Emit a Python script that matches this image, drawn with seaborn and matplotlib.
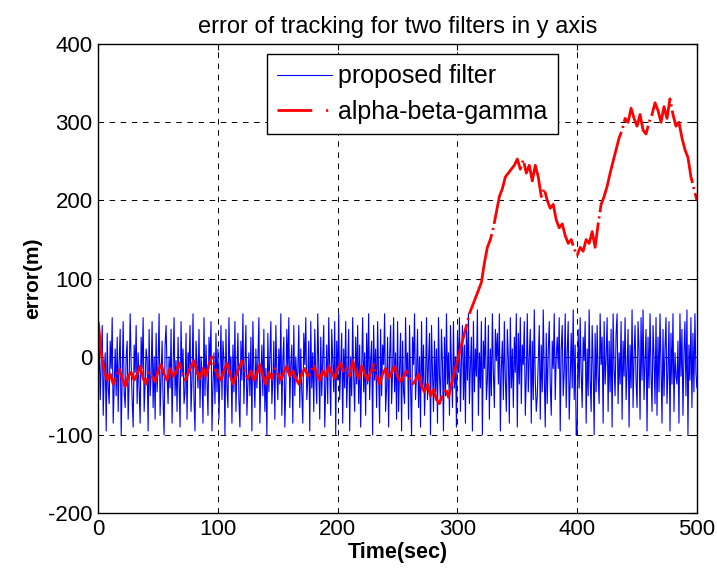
import numpy as np
import pandas as pd
import matplotlib
matplotlib.use('Agg')
import matplotlib.pyplot as plt
import seaborn as sns

# proposed filter error, 601 samples over 0..500 s
proposed = [
    -30, 15, -55, -10, 40, -75, -20, 5, -95, 30, -40, -60, 20, -15, 50, -85, -35, 10, -50, 25,
    -70, -5, 35, -100, -25, 45, -45, -65, 0, 20, -80, -30, 55, -10, -55, -90, 15, -20, 40, -60,
    5, -40, -85, 25, -15, 50, -70, -35, 10, -5, -95, 35, -50, -25, 45, -65, 0, -80, 30, -45,
    -10, 55, -75, -30, 20, -55, -100, 15, 40, -20, -60, 0, -40, 35, -85, -15, 50, -50, -5, -70,
    25, -35, -90, 45, -25, 10, -60, -45, 30, -80, 5, -15, 40, -70, -30, 55, -55, -95, 20, -10,
    -40, 35, -65, 0, -20, -85, 50, -50, 15, -30, -75, 25, -10, 45, -95, -35, 5, -60, 30, -45,
    10, -80, -20, 40, -55, 20, -5, -100, 35, -40, -65, 50, -25, 0, -85, 15, -45, 45, -70, -15,
    30, -55, -90, 20, -30, 55, -60, -10, 40, -75, -35, 5, -50, 25, -95, 45, -20, -65, 10, -40,
    -5, 50, -85, -25, 15, -50, 35, -70, -15, -100, 30, -45, 0, 45, -60, -30, 20, -80, 40, -20,
    -55, 10, -35, 55, -75, -5, 25, -90, -40, 35, -20, 50, -65, -10, 15, -85, 40, -50, 0, -30,
    -20, 40, -65, 10, -45, -85, 30, -10, 50, -55, -30, 20, -95, 45, -40, 5, -70, 35, -25, -60,
    55, -15, -80, 25, -50, 0, 40, -90, -35, 15, -60, 50, -20, -75, 35, -5, -45, 45, -100, 20,
    -30, 55, -55, -10, 30, -85, 10, -40, 45, -65, -20, 35, -95, 0, -50, 50, -25, -70, 25, -35,
    40, -60, 15, -90, -15, 50, -45, 5, -75, 30, -35, 55, -55, -5, 20, -100, 40, -30, 10, -65,
    45, -25, -85, 35, -50, 15, -10, 55, -70, -40, 25, -90, 0, 40, -60, -20, 50, -45, 5, -80,
    45, -70, -15, 30, -95, 20, -45, -60, 50, -25, 5, -80, 40, -35, -100, 25, -10, 55, -55, -20,
    35, -65, 0, -90, 45, -40, 15, -75, -30, 50, -55, -5, 30, -100, 40, -20, -70, 20, -45, 10,
    -85, 50, -25, -60, 35, -10, -95, 25, -50, 55, -35, 5, -75, 40, -15, -65, 45, -40, 0, -90,
    30, -20, 50, -70, -5, 40, -55, 15, -85, 35, -30, 55, -60, -10, 25, -95, 45, -45, 10, -25,
    60, -75, 5, -40, 45, -100, 20, -15, 50, -55, -30, 40, -80, 10, -50, 55, -20, -65, 35, -5,
    30, -35, 55, -95, -15, 20, -55, 45, -30, -70, 35, 0, -85, 50, -40, 10, -65, 25, -20, 55,
    -90, 30, -35, 50, -60, 15, -10, 45, -75, -25, 55, -45, 0, 35, -85, 20, -55, 60, -30, -70,
    -50, -5, 40, -80, 15, -45, 60, -25, -90, 30, -60, 5, 45, -35, -75, 20, -15, 55, -55, 0,
    25, -15, 50, -95, 10, 40, -50, -20, 55, -65, 5, 45, -80, -30, 30, -40, 60, -55, 15, -100,
    -95, 35, -40, 50, -20, -65, 25, -5, 45, -85, 10, -50, 60, -30, -70, 40, -10, -100, 30, -45,
    40, -25, -60, 55, -10, 25, -85, 45, -35, 0, 50, -70, 20, -45, 35, -90, 55, -15, -50, 30,
    55, -60, 5, -35, 45, -80, 20, -25, 50, -55, -15, 35, -90, 15, -40, 60, -65, 0, 40, -30,
    -65, 45, 10, -80, 50, -30, 60, -55, -5, 35, -95, 25, -40, 55, -20, -70, 40, 0, -60, 50,
    -75, 25, -45, 55, -10, -85, 35, -50, 10, 50, -60, -20, 45, -95, 30, -35, 55, -70, 5, -25,
    -35, 20, -85, 55, -25, 35, -75, 5, 45, -50, 60, -100, 15, -30, 50, -65, 30, -45, 55, -20, -40,
]

# alpha-beta-gamma error, sampled every 2.5 s (0..500)
abg = [
    45, 5, -18, -30, -22, -35, -25, -15, -28, -38, -25,
    -20, -30, -22, -12, -28, -35, -20, -25, -32, -18,
    -10, -22, -30, -15, -25, -20, -8, -18, -30, -22,
    -12, -5, -20, -28, -15, -25, -10, 0, -15, -25,
    -30, -18, -8, -22, -35, -25, -15, -5, -20, -28,
    -18, -30, -22, -10, -25, -35, -20, -28, -15, -22,
    -30, -20, -12, -25, -18, -28, -35, -22, -15, -25,
    -20, -10, -22, -30, -18, -25, -12, -20, -28, -15,
    -8, -20, -15, -25, -5, -18, -28, -12, -22, -30,
    -20, -10, -25, -35, -22, -15, -28, -20, -12, -25,
    -32, -25, -18, -28, -35, -30, -22, -38, -45, -35,
    -50, -42, -55, -60, -48, -40, -52, -35, -20, -5,
    10, 25, 40, 55, 65, 75, 85, 95, 120, 140,
    150, 165, 185, 205, 215, 230, 235, 240, 245, 253,
    240, 252, 235, 245, 225, 245, 230, 205, 215, 200,
    190, 195, 175, 165, 170, 155, 145, 150, 138, 130,
    140, 135, 150, 145, 160, 140, 170, 195, 205, 218,
    235, 250, 265, 280, 290, 305, 300, 318, 305, 295,
    310, 290, 285, 300, 310, 325, 315, 300, 320, 305,
    330, 310, 295, 300, 280, 265, 255, 230, 215, 200,
]

t_prop = np.linspace(0, 500, len(proposed))
t_abg = np.linspace(0, 500, len(abg))

sns.set_style('white')
plt.rcParams['font.family'] = ['Liberation Sans', 'DejaVu Sans']
plt.rcParams['lines.scale_dashes'] = False
plt.rcParams['axes.unicode_minus'] = False
plt.rcParams['text.color'] = 'black'
plt.rcParams['axes.labelcolor'] = 'black'

fig = plt.figure(figsize=(7.17, 5.81), dpi=100)
ax = fig.add_axes([0.137, 0.117, 0.835, 0.807])

sns.lineplot(x=t_prop, y=proposed, ax=ax, color='blue', linewidth=0.8,
             estimator=None, label='proposed filter')
sns.lineplot(x=t_abg, y=abg, ax=ax, color='red', linewidth=2.0,
             estimator=None, label='alpha-beta-gamma')
ax.lines[1].set_dashes((60, 3, 1.5, 3))

ax.set_xlim(0, 500)
ax.set_ylim(-200, 400)
ax.set_xticks(np.arange(0, 501, 100))
ax.set_yticks(np.arange(-200, 401, 100))
ax.grid(True, color='black', linestyle=(0, (4, 4)), linewidth=0.7)
ax.tick_params(direction='in', length=4, width=0.8, top=True, right=True,
               labelsize=16, colors='black', pad=4)
for sp in ax.spines.values():
    sp.set_color('black')
    sp.set_linewidth(1.0)

ax.set_title('error of tracking for two filters in y axis', fontsize=17, pad=8)
ax.set_xlabel('Time(sec)', fontsize=15.5, fontweight='bold', labelpad=2)
ax.set_ylabel('error(m)', fontsize=15, fontweight='bold', labelpad=4)

leg = ax.legend(loc='upper left', bbox_to_anchor=(0.282, 0.978), fontsize=18,
                frameon=True, fancybox=False, framealpha=1, edgecolor='black',
                handlelength=2.2, borderpad=0.4, labelspacing=0.45, handletextpad=0.25,
                borderaxespad=0)
leg.get_frame().set_linewidth(1.0)
leg.get_lines()[1].set_dashes((25, 10, 1.5, 10))

plt.savefig('out.png', dpi=100)
